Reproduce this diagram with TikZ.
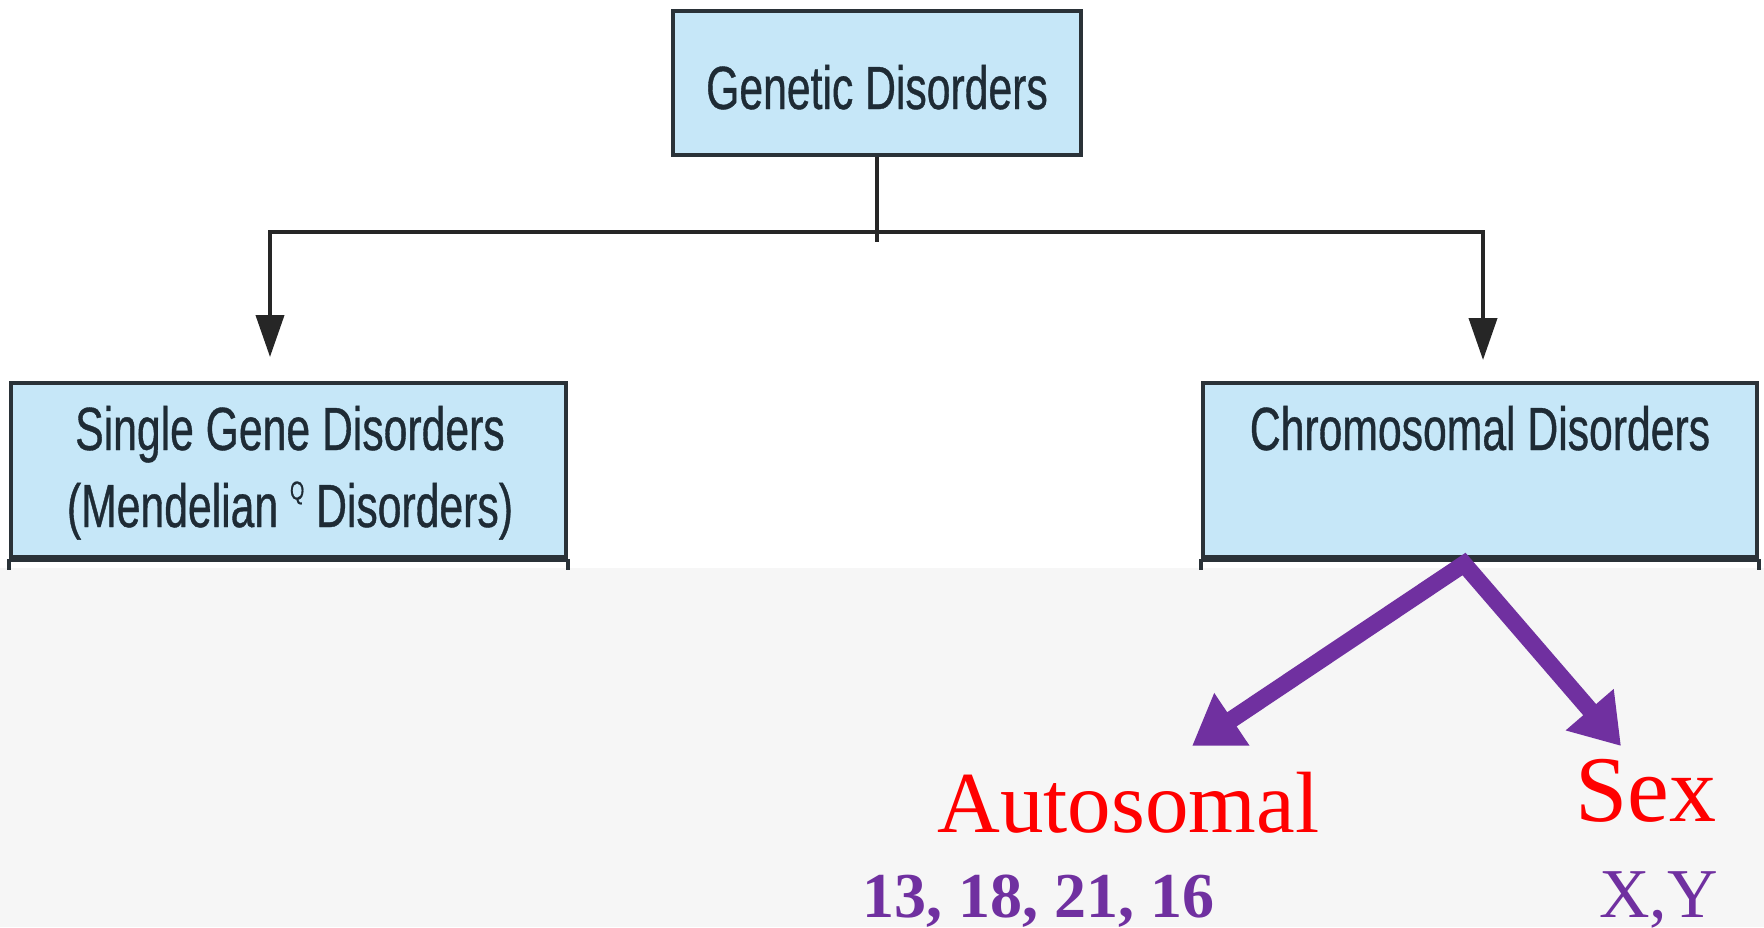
\documentclass[tikz,border=0pt]{standalone}
\usepackage{fontspec}
\setmainfont{Liberation Serif}
\newfontfamily\boxfont[FakeStretch=0.7,FakeBold=0.6]{Liberation Sans}
\usetikzlibrary{arrows.meta}
\definecolor{boxfill}{HTML}{C6E7F8}
\definecolor{boxline}{HTML}{2A3238}
\definecolor{boxtext}{HTML}{1E2B35}
\definecolor{slidebg}{HTML}{F6F6F6}
\definecolor{violet}{HTML}{7030A0}
\tikzset{
  box/.style={draw=boxline, line width=2pt, fill=boxfill, inner sep=0pt},
  boxlabel/.style={text=boxtext, anchor=base, inner sep=0pt,
    font=\boxfont\fontsize{30.5pt}{36pt}\selectfont},
  conn/.style={draw=black!85, line width=2pt},
  connarrow/.style={conn, -{Triangle[length=21pt,width=14pt]}},
  branch/.style={draw=violet, line width=8.5pt, line join=miter,
    {Triangle[length=24pt,width=30pt]}-{Triangle[length=24pt,width=30pt]}},
  kind/.style={text=red, inner sep=0pt, anchor=base west},
  members/.style={text=violet, inner sep=0pt, anchor=base west}
}
\begin{document}
\begin{tikzpicture}[x=0.5pt,y=-0.5pt]
\useasboundingbox (0,0) rectangle (1764,927);
\fill[white] (0,0) rectangle (1764,568);
\fill[slidebg] (0,568) rectangle (1764,927);

% boxes
\node[box, minimum width=204pt, minimum height=72pt] (gen) at (877,83) {};
\node[box, minimum width=277.5pt, minimum height=87pt] (single) at (288.5,470) {};
\node[box, minimum width=277pt, minimum height=87pt] (chrom) at (1480,470) {};

% heavy lower edges and side stubs of the lower boxes
\draw[boxline, line width=3pt] (single.south west) -- (single.south east);
\draw[boxline, line width=3pt] (chrom.south west) -- (chrom.south east);
\draw[boxline, line width=2pt] (single.south west) -- ++(0,11);
\draw[boxline, line width=2pt] (single.south east) -- ++(0,11);
\draw[boxline, line width=2pt] (chrom.south west) -- ++(0,11);
\draw[boxline, line width=2pt] (chrom.south east) -- ++(0,11);

% box texts
\node[boxlabel] (genT) at (877,109) {Genetic Disorders};
\node[boxlabel] (singleT) at (290,450) {Single Gene Disorders};
\node[boxlabel] (singleT2) at (290,527) {(Mendelian \raisebox{0.45em}{\fontsize{13pt}{14pt}\selectfont Q} Disorders)};
\node[boxlabel] (chromT) at (1480,450) {Chromosomal Disorders};

% tree connectors
\coordinate (stem) at (877,242);
\coordinate (j) at (877,232);
\coordinate (sTip) at (270,357);
\coordinate (cTip) at (1483,360);
\draw[conn] (gen.south) -- (stem);
\draw[connarrow] (j) -| (sTip);
\draw[connarrow] (j) -| (cTip);

% subdivision of chromosomal disorders
\coordinate (apex) at (1464,564);
\coordinate (aTip) at (1192,746);
\coordinate (xTip) at (1621,746);
\draw[branch] (aTip) -- (apex) -- (xTip);

\node[kind, font=\fontsize{43.5pt}{50pt}\selectfont] (auto) at (937,832) {Autosomal};
\node[kind, font=\fontsize{47pt}{54pt}\selectfont] (sex) at (1575,821) {Sex};
\node[members, font=\bfseries\fontsize{32pt}{38pt}\selectfont] (autoN) at (862,917) {13, 18, 21, 16};
\node[members, font=\fontsize{35pt}{40pt}\selectfont] (sexN) at (1599,917) {X,Y};
\end{tikzpicture}
\end{document}
